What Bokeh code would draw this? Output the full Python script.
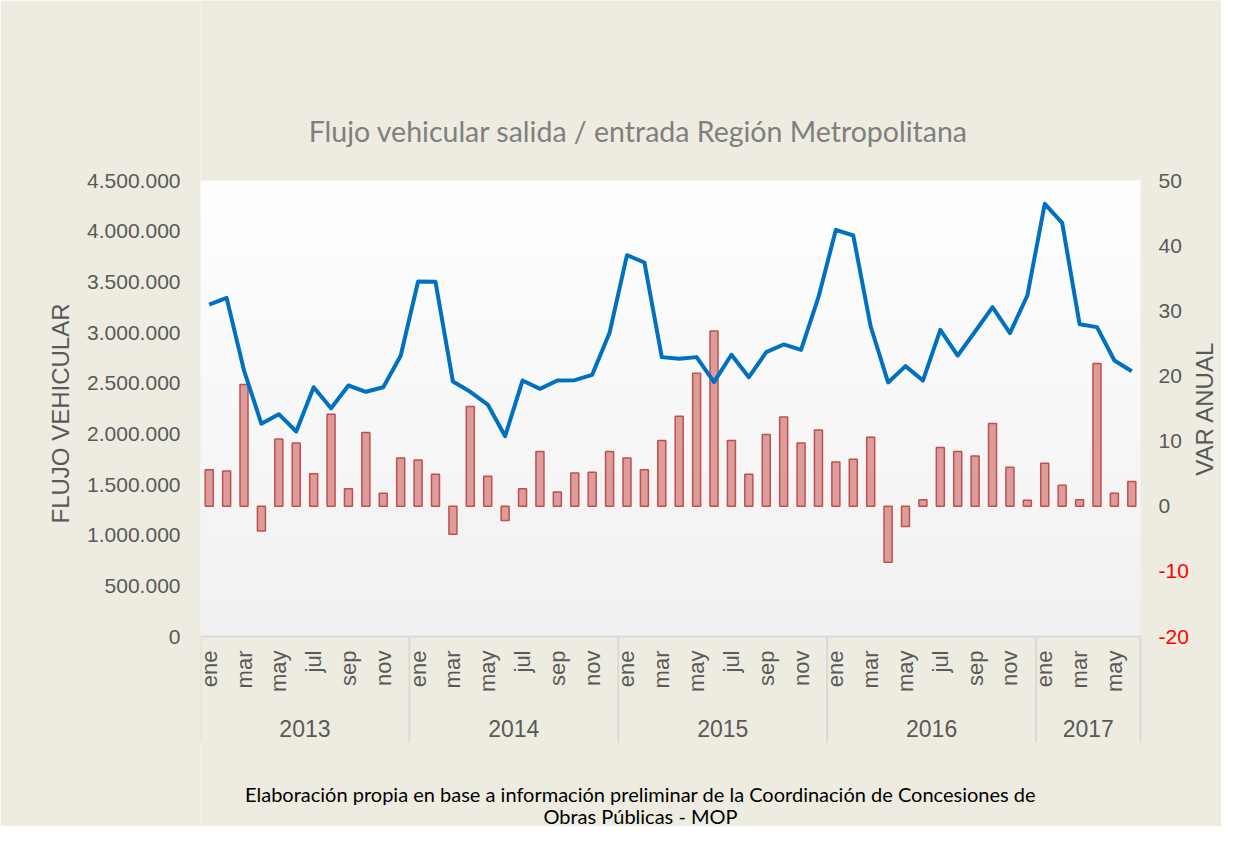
import math
import numpy as np
from bokeh.plotting import figure
from bokeh.models import Range1d, FixedTicker
from bokeh.core.properties import value
from bokeh.embed import file_html
from bokeh.resources import INLINE

# ---------------- data ----------------
years = ["2013", "2014", "2015", "2016", "2017"]
months = ["ene", "feb", "mar", "abr", "may", "jun", "jul", "ago", "sep", "oct", "nov", "dic"]
months_per_year = [12, 12, 12, 12, 6]

flujo_2013 = [3276000, 3342000, 2625000, 2099000, 2194000, 2023000, 2460000, 2253000, 2477000, 2415000, 2460000, 2770000]
flujo_2014 = [3503000, 3500000, 2516000, 2415000, 2289000, 1977000, 2526000, 2444000, 2526000, 2530000, 2582000, 2997000]
flujo_2015 = [3763000, 3691000, 2757000, 2740000, 2757000, 2510000, 2780000, 2559000, 2806000, 2882000, 2829000, 3349000]
flujo_2016 = [4013000, 3957000, 3059000, 2507000, 2668000, 2526000, 3026000, 2773000, 3010000, 3250000, 2993000, 3365000]
flujo_2017 = [4270000, 4082000, 3082000, 3053000, 2724000, 2618000]

var_2013 = [5.6, 5.4, 18.7, -3.8, 10.3, 9.7, 5.0, 14.1, 2.7, 11.3, 2.0, 7.4]
var_2014 = [7.1, 4.9, -4.3, 15.3, 4.6, -2.2, 2.7, 8.4, 2.2, 5.1, 5.2, 8.4]
var_2015 = [7.4, 5.6, 10.1, 13.8, 20.4, 26.9, 10.1, 4.9, 11.0, 13.7, 9.7, 11.7]
var_2016 = [6.8, 7.2, 10.6, -8.6, -3.1, 1.0, 9.0, 8.4, 7.7, 12.7, 6.0, 0.9]
var_2017 = [6.6, 3.2, 1.0, 21.9, 2.0, 3.8]

left_ticks = [0, 500000, 1000000, 1500000, 2000000, 2500000, 3000000, 3500000, 4000000, 4500000]
right_ticks = [-20, -10, 0, 10, 20, 30, 40, 50]

title_text = "Flujo vehicular salida / entrada Región Metropolitana"
left_label = "FLUJO VEHICULAR"
right_label = "VAR ANUAL"
note_lines = ["Elaboración propia en base a información preliminar de la Coordinación de Concesiones de",
              "Obras Públicas - MOP"]

flujo = flujo_2013 + flujo_2014 + flujo_2015 + flujo_2016 + flujo_2017
var_anual = var_2013 + var_2014 + var_2015 + var_2016 + var_2017
month_labels = [months[m] for cnt in months_per_year for m in range(cnt)]
n = len(flujo)
xs = list(range(n))

# ---------------- geometry (figure pixels) ----------------
W, H = 1221, 826
L, R, T, B = 200, 1140, 180, 636
LEFT_MAX = left_ticks[-1]
R_MIN, R_MAX = right_ticks[0], right_ticks[-1]

px_x = (R - L) / n
k = LEFT_MAX / (B - T)
k2 = (R_MAX - R_MIN) / (B - T)

def dx(sx):
    return -0.5 + (sx - L) / px_x

def dy(sy):
    return (B - sy) * k

def dy2(sy):
    return (B - sy) * k2 + R_MIN

BG = "#EEECE1"
TXT = "#595959"

p = figure(width=W, height=H, output_backend="svg", toolbar_location=None,
           x_range=Range1d(-0.5, dx(W)),
           y_range=Range1d(dy(H), dy(0)),
           x_axis_location=None,
           min_border_left=L, min_border_right=0, min_border_top=0, min_border_bottom=0,
           background_fill_color=BG, border_fill_color=BG, outline_line_color=None)
p.extra_y_ranges = {"right": Range1d(dy2(H), dy2(0))}
p.grid.visible = False

# plot-area gradient background
N = 64
img = np.zeros((N, 1), dtype=np.uint32)
view = img.view(dtype=np.uint8).reshape((N, 1, 4))
t = np.linspace(0, 1, N)
shade = (241 + (255 - 241) * t).astype(np.uint8)
view[:, 0, 0] = shade
view[:, 0, 1] = shade
view[:, 0, 2] = shade
view[:, 0, 3] = 255
p.image_rgba(image=[img], x=-0.5, y=0, dw=n, dh=LEFT_MAX)

# category axis line and year separators
bounds = [-0.5]
for cnt in months_per_year:
    bounds.append(bounds[-1] + cnt)
p.segment(x0=[-0.5], y0=[0], x1=[n - 0.5], y1=[0], line_color="#D9D9D9", line_width=2)
p.segment(x0=bounds, y0=[0] * len(bounds), x1=bounds, y1=[dy(742)] * len(bounds),
          line_color="#D9D9D9", line_width=2)

# month labels (every other month)
mx = [i for i in xs if i % 2 == 0]
ml = [month_labels[i] for i in mx]
p.text(x=mx, y=[dy(650)] * len(mx), text=ml, angle=math.pi / 2,
       text_align="right", text_baseline="middle",
       text_font=value("Liberation Sans"), text_font_size="22px", text_color=TXT)

# year labels
yc = [(bounds[i] + bounds[i + 1]) / 2 for i in range(len(years))]
p.text(x=yc, y=[dy(728)] * len(years), text=years, text_align="center", text_baseline="middle",
       text_font=value("Liberation Sans"), text_font_size="23px", text_color=TXT)

# bars (right scale)
p.vbar(x=xs, top=var_anual, bottom=0, width=0.46, y_range_name="right",
       fill_color="#DC9C9A", line_color="#C0504D", line_width=1.5)

# line (left scale)
p.line(xs, flujo, line_color="#0070C0", line_width=4, line_join="round")

# right-hand scale labels (negative values in red)
p.text(x=[dx(1158)] * len(right_ticks), y=right_ticks, y_range_name="right",
       text=[str(v) for v in right_ticks], text_align="left", text_baseline="middle",
       text_color=["#FF0000" if v < 0 else TXT for v in right_ticks],
       text_font=value("Liberation Sans"), text_font_size="21px")
p.text(x=[dx(1204)], y=[dy2(408)], y_range_name="right", text=[right_label], angle=math.pi / 2,
       text_align="center", text_baseline="middle",
       text_font=value("Liberation Sans"), text_font_size="24px", text_color=TXT)

# title and note
p.text(x=[dx(638)], y=[dy(130)], text=[title_text], text_align="center", text_baseline="middle",
       text_font=value("Lato"), text_font_size="28.5px", text_color="#7F7F7F")
p.text(x=[dx(640), dx(640)], y=[dy(793), dy(815)], text=note_lines, text_align="center",
       text_baseline="middle", text_font=value("Lato"), text_font_size="20px", text_color="#000000")

# left axis
ax = p.yaxis[0]
ax.ticker = FixedTicker(ticks=left_ticks)
ax.major_label_overrides = {t_: f"{t_:,}".replace(",", ".") for t_ in left_ticks}
ax.bounds = (0, LEFT_MAX)
ax.axis_line_color = None
ax.major_tick_line_color = None
ax.minor_tick_line_color = None
ax.major_tick_out = 0
ax.major_tick_in = 0
ax.major_label_standoff = 20
ax.major_label_text_font = "Liberation Sans"
ax.major_label_text_font_size = "21px"
ax.major_label_text_color = TXT
ax.axis_label = left_label
ax.axis_label_text_font = "Liberation Sans"
ax.axis_label_text_font_size = "24px"
ax.axis_label_text_font_style = "normal"
ax.axis_label_text_color = TXT
ax.axis_label_standoff = 10

open("out.html", "w").write(file_html(p, INLINE))
